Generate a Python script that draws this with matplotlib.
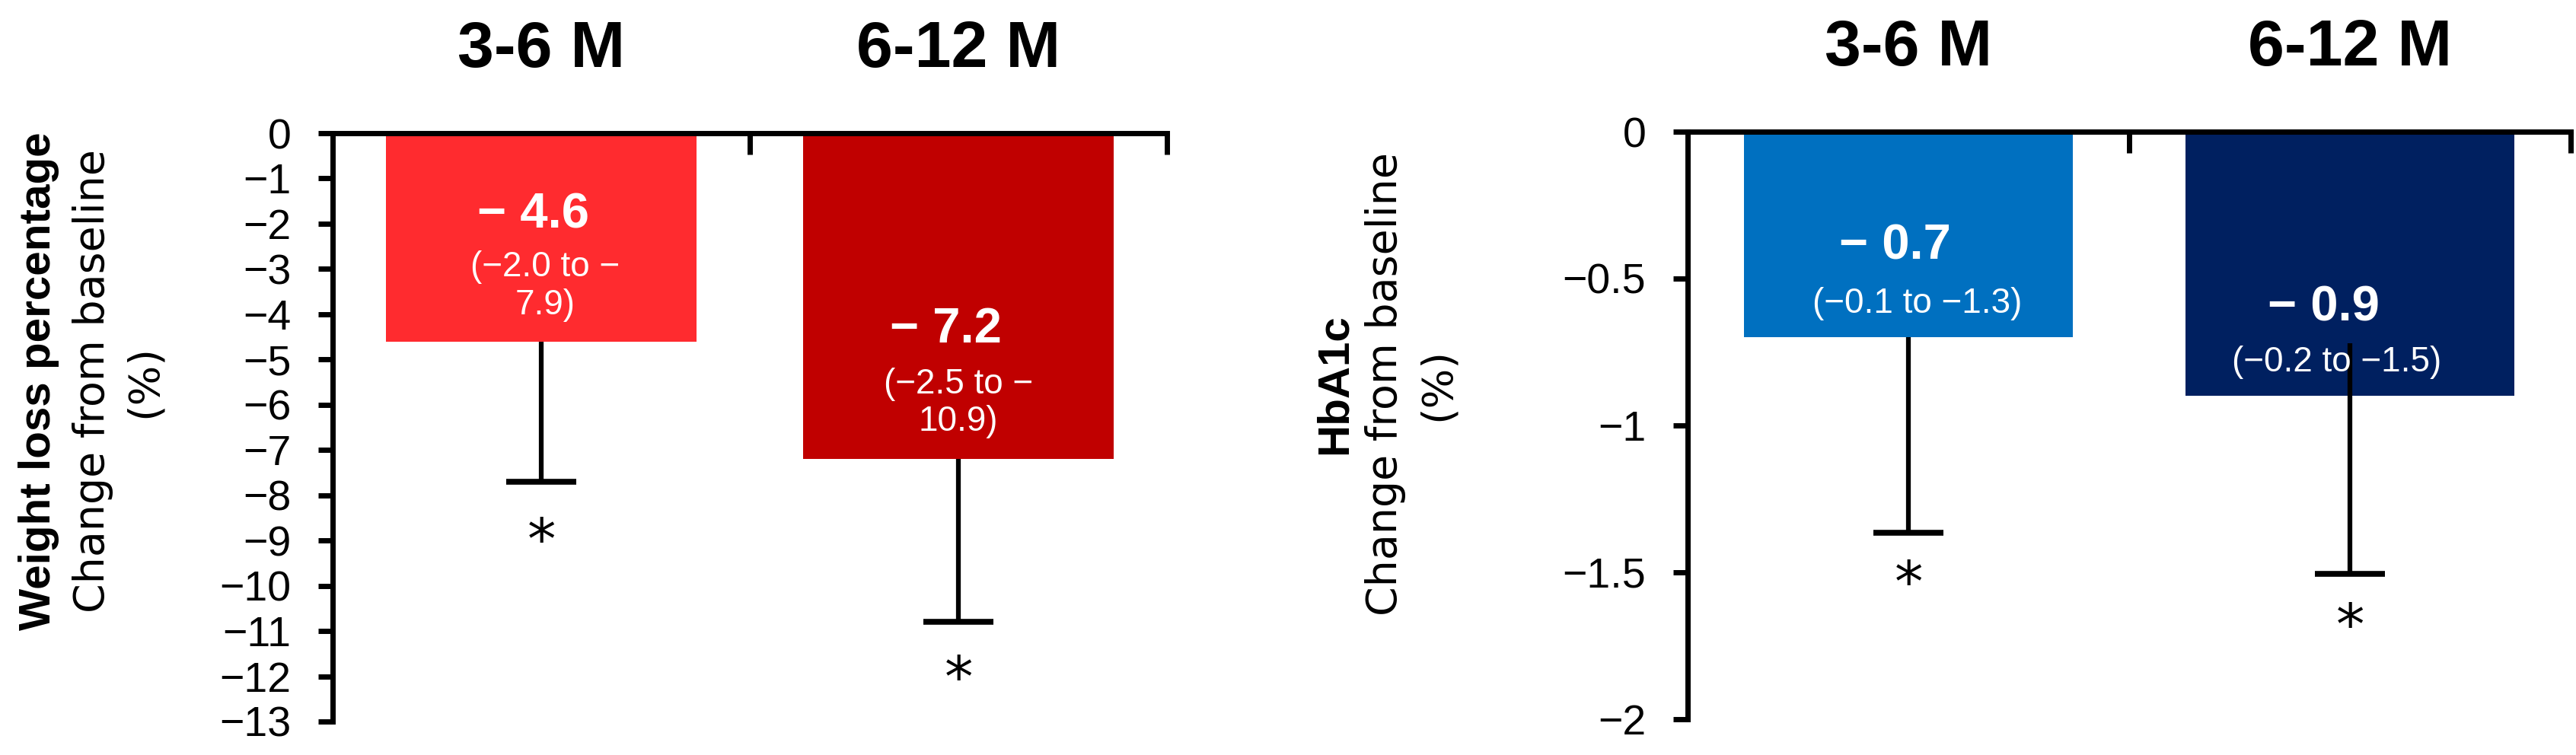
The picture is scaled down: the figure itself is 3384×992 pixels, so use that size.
import matplotlib
matplotlib.use("Agg")
import matplotlib.pyplot as plt

# ---- data ----
periods = ["3-6 M", "6-12 M"]

wl_mean = [-4.6, -7.2]
wl_err_top = [-4.6, -7.2]
wl_err_low = [-7.7, -10.8]
wl_star = [-9.05, -12.1]
wl_big = ["\u2212 4.6", "\u2212 7.2"]
wl_ci = ["(\u22122.0 to \u2212\n7.9)", "(\u22122.5 to \u2212\n10.9)"]
wl_ticks = list(range(0, -14, -1))
wl_ticklabels = ["0"] + ["\u2212%d" % (-t) for t in wl_ticks[1:]]

hb_mean = [-0.7, -0.9]
hb_err_top = [-0.7, -0.72]
hb_err_low = [-1.365, -1.505]
hb_star = [-1.545, -1.69]
hb_big = ["\u2212 0.7", "\u2212 0.9"]
hb_ci = ["(\u22120.1 to \u22121.3)", "(\u22120.2 to \u22121.5)"]
hb_ticks = [0, -0.5, -1, -1.5, -2]
hb_ticklabels = ["0", "\u22120.5", "\u22121", "\u22121.5", "\u22122"]

SANS = ["Liberation Sans", "DejaVu Sans"]

fig = plt.figure(figsize=(33.84, 9.92), dpi=100)


def draw_panel(ax, means, err_top, err_low, stars, big, ci, colors,
               ticks, ticklabels, ylim, big_pos, ci_pos):
    x = list(range(len(periods)))
    ax.bar(x, means, width=0.745, color=colors, zorder=1)
    ax.vlines(x, err_top, err_low, color="black", lw=4.5, zorder=3)
    ax.plot(x, err_low, ls="none", marker="_", ms=66, mew=5.5,
            color="black", zorder=3)
    for i in x:
        ax.text(i, stars[i], "*", ha="center", va="center", fontsize=54,
                family=["DejaVu Sans"], zorder=4)
        bx, by = big_pos[i]
        ax.text(i + bx, by, big[i], ha="center", va="center", fontsize=47,
                fontweight="bold", color="white", family=SANS, zorder=4)
        cx, cy = ci_pos[i]
        ax.text(i + cx, cy, ci[i], ha="center", va="center", fontsize=33,
                color="white", family=SANS, linespacing=1.15,
                multialignment="center", zorder=4)
        ax.text(i, 1.113, periods[i], transform=ax.get_xaxis_transform(),
                ha="center", va="baseline", fontsize=62, fontweight="bold",
                family=SANS)

    ax.set_xlim(-0.5, 1.5)
    ax.set_ylim(*ylim)
    ax.set_yticks(ticks)
    ax.set_yticklabels(ticklabels, family=SANS, fontsize=40)
    ax.xaxis.tick_top()
    ax.set_xticks([0.5, 1.5])
    ax.set_xticklabels([])
    ax.tick_params(axis="x", direction="in", length=20, width=5)
    ax.tick_params(axis="y", direction="out", length=13.5, width=5, pad=26)
    for side in ["right", "bottom"]:
        ax.spines[side].set_visible(False)
    for side in ["left", "top"]:
        ax.spines[side].set_linewidth(5)
    ax.spines["left"].set_capstyle("projecting")


ax1 = fig.add_axes([437 / 3384, 1 - 948 / 992, 1096 / 3384, 773 / 992])
draw_panel(ax1, wl_mean, wl_err_top, wl_err_low, wl_star, wl_big, wl_ci,
           ["#FF2B2F", "#C00000"], wl_ticks, wl_ticklabels, (-13, 0),
           [(-0.02, -1.8), (-0.03, -4.34)], [(0.01, -3.38), (0.0, -5.96)])

ax2 = fig.add_axes([2217 / 3384, 1 - 945 / 992, 1160 / 3384, 772 / 992])
draw_panel(ax2, hb_mean, hb_err_top, hb_err_low, hb_star, hb_big, hb_ci,
           ["#0070C0", "#002060"], hb_ticks, hb_ticklabels, (-2, 0),
           [(-0.03, -0.39), (-0.06, -0.60)], [(0.02, -0.585), (-0.03, -0.785)])

# y-axis titles (three lines each)
fig.text(51 / 3384, 0.495, "Weight loss percentage", rotation=90,
         ha="center", va="center", fontsize=42, fontweight="bold", family=SANS)
fig.text(122 / 3384, 0.495, "Change from baseline", rotation=90,
         ha="center", va="center", fontsize=40, family=["DejaVu Sans"])
fig.text(190 / 3384, 0.495, "(%)", rotation=90,
         ha="center", va="center", fontsize=40, family=["DejaVu Sans"])

fig.text(1754 / 3384, 0.491, "HbA1c", rotation=90,
         ha="center", va="center", fontsize=42, fontweight="bold", family=SANS)
fig.text(1820 / 3384, 0.491, "Change from baseline", rotation=90,
         ha="center", va="center", fontsize=40, family=["DejaVu Sans"])
fig.text(1889 / 3384, 0.491, "(%)", rotation=90,
         ha="center", va="center", fontsize=40, family=["DejaVu Sans"])

fig.savefig("out.png", dpi=100, facecolor="white")
